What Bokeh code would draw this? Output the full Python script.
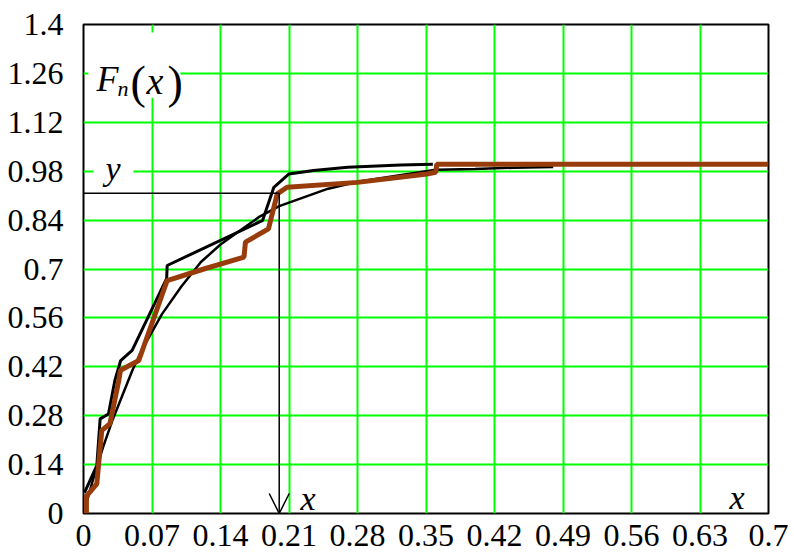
from bokeh.plotting import figure
from bokeh.models import Range1d, FixedTicker, Label, Arrow, OpenHead, BoxAnnotation
from bokeh.embed import file_html
from bokeh.resources import INLINE

# Axis ticks and their printed labels
x_ticks = [0, 0.07, 0.14, 0.21, 0.28, 0.35, 0.42, 0.49, 0.56, 0.63, 0.7]
x_tick_labels = ["0", "0.07", "0.14", "0.21", "0.28", "0.35", "0.42", "0.49", "0.56", "0.63", "0.7"]
y_ticks = [0, 0.14, 0.28, 0.42, 0.56, 0.7, 0.84, 0.98, 1.12, 1.26, 1.4]
y_tick_labels = ["0", "0.14", "0.28", "0.42", "0.56", "0.7", "0.84", "0.98", "1.12", "1.26", "1.4"]

# Theoretical distribution function
x_theory = [0, 0.01, 0.02, 0.03, 0.04, 0.05, 0.06, 0.08, 0.10, 0.12, 0.14, 0.16,
            0.18, 0.20, 0.22, 0.25, 0.28, 0.32, 0.36, 0.40, 0.44, 0.48]
F_theory = [0, 0.10, 0.19, 0.27, 0.34, 0.41, 0.47, 0.57, 0.65, 0.72, 0.77, 0.81,
            0.85, 0.88, 0.90, 0.93, 0.95, 0.967, 0.984, 0.986, 0.99, 0.992]

# First empirical distribution (black polygon)
x_emp1 = [0.001, 0.0136, 0.017, 0.0255, 0.032, 0.038, 0.0497, 0.085, 0.0855,
          0.183, 0.1945, 0.21, 0.235, 0.27, 0.324, 0.357]
F_emp1 = [0.06, 0.137, 0.271, 0.285, 0.38, 0.438, 0.467, 0.673, 0.71,
          0.839, 0.934, 0.972, 0.982, 0.991, 0.998, 1.0]

# Second empirical distribution (brown polygon)
x_emp2 = [0.003, 0.003, 0.0136, 0.0187, 0.027, 0.036, 0.0378, 0.0565, 0.0855,
          0.123, 0.164, 0.1655, 0.189, 0.198, 0.208, 0.28, 0.351, 0.36, 0.361, 0.7]
F_emp2 = [0.0, 0.05, 0.085, 0.238, 0.257, 0.38, 0.41, 0.438, 0.667,
          0.70, 0.734, 0.777, 0.815, 0.915, 0.934, 0.948, 0.972, 0.977, 1.0, 1.0]

# Reading of the quantile: level y and matching x
q_level = 0.917
q_x = 0.2

SERIF = "Liberation Serif"
GREEN = "#00ff00"
BROWN = "#983c0c"

p = figure(width=794, height=556,
           x_range=Range1d(0, 0.7), y_range=Range1d(0, 1.4),
           output_backend="svg", toolbar_location=None,
           min_border_left=83, min_border_right=26,
           min_border_top=24, min_border_bottom=43)

p.background_fill_color = "white"
p.border_fill_color = "white"
p.outline_line_color = "black"
p.outline_line_width = 2
p.outline_line_alpha = 1

p.xaxis.ticker = FixedTicker(ticks=x_ticks)
p.yaxis.ticker = FixedTicker(ticks=y_ticks)
p.xaxis.major_label_overrides = dict(zip(x_ticks, x_tick_labels))
p.yaxis.major_label_overrides = dict(zip(y_ticks, y_tick_labels))
for ax in (p.xaxis, p.yaxis):
    ax.axis_line_color = None
    ax.major_tick_line_color = None
    ax.minor_tick_line_color = None
    ax.major_label_text_font = SERIF
    ax.major_label_text_font_size = "32px"
    ax.major_label_text_color = "black"
p.xaxis.major_label_standoff = 5
p.yaxis.major_label_standoff = 14

p.xgrid.ticker = FixedTicker(ticks=x_ticks)
p.ygrid.ticker = FixedTicker(ticks=y_ticks)
for g in (p.xgrid, p.ygrid):
    g.grid_line_color = GREEN
    g.grid_line_width = 2
    g.grid_line_alpha = 1

# Curves
p.line(x_theory, F_theory, line_color="black", line_width=2.5)
p.line(x_emp1, F_emp1, line_color="black", line_width=3)
p.line(x_emp2, F_emp2, line_color=BROWN, line_width=5)

# Quantile construction: horizontal level and arrow down to the x axis
p.line([0, q_x], [q_level, q_level], line_color="black", line_width=1.5)
p.add_layout(Arrow(x_start=q_x, y_start=q_level, x_end=q_x, y_end=0,
                   line_color="black", line_width=1.5,
                   end=OpenHead(size=20, line_color="black", line_width=1.5)))

# White patches behind the in-plot labels
p.add_layout(BoxAnnotation(left=0.005, right=0.099, bottom=1.19, top=1.377,
                           fill_color="white", fill_alpha=1, line_color=None))
p.add_layout(BoxAnnotation(left=0.010, right=0.051, bottom=0.95, top=1.04,
                           fill_color="white", fill_alpha=1, line_color=None))


def screen_label(x, y, text, size, italic=True):
    p.add_layout(Label(x=x, y=y, x_units="screen", y_units="screen", text=text,
                       text_font=SERIF, text_font_size=size,
                       text_font_style="italic" if italic else "normal",
                       text_baseline="alphabetic", text_align="left",
                       text_color="black"))


# F_n(x)
screen_label(13, 435, "F", "36px")
screen_label(34, 425, "n", "22px")
screen_label(47, 431, "(", "46px", italic=False)
screen_label(63, 433, "x", "38px")
screen_label(84, 431, ")", "46px", italic=False)

# y and x markers
screen_label(22, 345, "y", "34px")
screen_label(217, 15, "x", "34px")
screen_label(646, 16, "x", "34px")

open("out.html", "w").write(file_html(p, INLINE))
